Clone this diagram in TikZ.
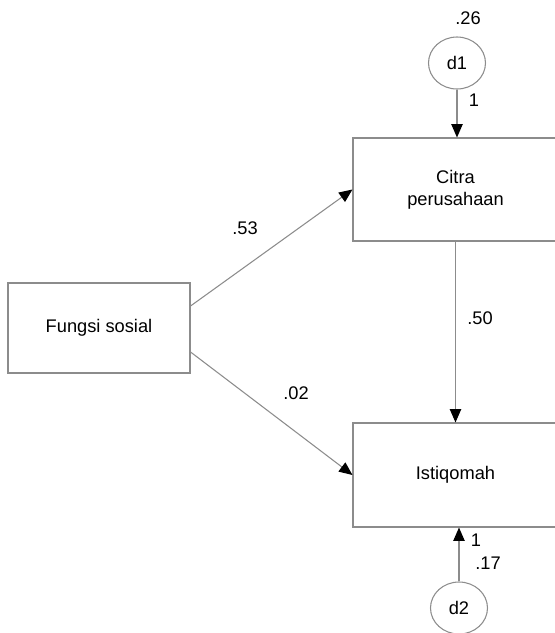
\documentclass[tikz,border=0pt]{standalone}
\usepackage{fontspec}
\setmainfont{Liberation Sans}
\usepackage{tikz}
\usetikzlibrary{arrows.meta, positioning, shapes.geometric}
\definecolor{edgegray}{RGB}{140,140,140}

\begin{document}
\begin{tikzpicture}[x=0.75pt, y=-0.75pt,
    >={Triangle[length=10pt, width=8.5pt, black]},
    var/.style={draw=edgegray, line width=0.8pt, rectangle, align=center,
      inner sep=0pt, font=\fontsize{13.7}{16.5}\selectfont},
    err/.style={draw=edgegray, line width=0.8pt, ellipse, inner sep=0pt,
      minimum width=42.75pt, minimum height=39pt,
      font=\fontsize{13.7}{16.5}\selectfont},
    path/.style={->, draw=edgegray, line width=0.8pt},
    coef/.style={font=\fontsize{13.7}{16.5}\selectfont}]
  \useasboundingbox (0,0) rectangle (555,633);

  % Observed variables
  \node[var, minimum width=136.5pt, minimum height=67.5pt] (fungsi) at (99,328) {Fungsi sosial};
  \node[var, minimum width=153.75pt, minimum height=77.25pt] (citra) at (455.5,189.5) {Citra\\perusahaan};
  \node[var, minimum width=153.75pt, minimum height=78pt] (istiq) at (455.5,475) {Istiqomah};

  % Error terms
  \node[err] (d1) at (457,63) {d1};
  \node[err] (d2) at (459,608) {d2};

  % Paths
  \draw[path] ([yshift=16.5pt]fungsi.east) -- (citra.west);
  \draw[path] ([yshift=-18pt]fungsi.east) -- (istiq.west);
  \draw[path] (citra.south) -- (istiq.north);
  \draw[path] (d1) -- (d1 |- citra.north);
  \draw[path] (d2) -- (d2 |- istiq.south);

  % Estimates
  \node[coef] (vd1) at (468,18) {.26};
  \node[coef] (wd1) at (474,100) {1};
  \node[coef] (b1) at (245,228) {.53};
  \node[coef] (b2) at (296,393) {.02};
  \node[coef] (b3) at (480,318) {.50};
  \node[coef] (wd2) at (476,540) {1};
  \node[coef] (vd2) at (488,563) {.17};
\end{tikzpicture}
\end{document}
